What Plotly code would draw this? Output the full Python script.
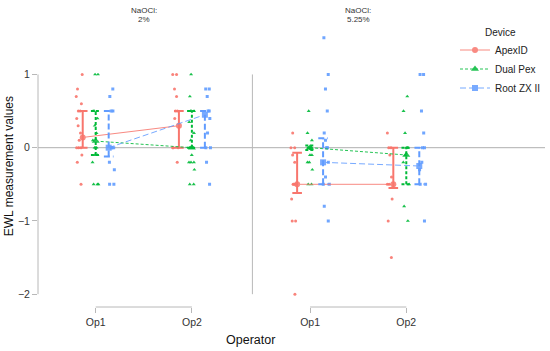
import plotly.graph_objects as go

# ---------------- data ----------------
operators = ["Op1", "Op2"]
devices = ["ApexID", "Dual Pex", "Root ZX II"]
naocl_labels = ["2%", "5.25%"]

# raw measurements (NaOCl 2%)
apex_2_op1 = [1.0, 0.8, 0.7, 0.6, 0.5, 0.5, 0.4, 0.3, 0.2, 0.1, 0, 0, 0, -0.1, -0.2, -0.5]
apex_2_op2 = [1.0, 1.0, 0.8, 0.7, 0.5, 0.5, 0.4, 0, 0, 0, -0.2]
dual_2_op1 = [1.0, 1.0, 0.5, 0.5, 0.4, 0.3, 0.2, 0.1, 0, 0, 0, -0.1, -0.1, -0.2, -0.5, -0.5, -0.5]
dual_2_op2 = [1.0, 0.7, 0.5, 0.5, 0.5, 0.35, 0.2, 0.1, 0, 0, 0, 0, -0.1, -0.2, -0.2, -0.2, -0.3, -0.5, -0.5]
root_2_op1 = [0.8, 0.7, 0.5, 0.5, 0, 0, 0, -0.2, -0.3, -0.5, -0.5]
root_2_op2 = [0.8, 0.8, 0.7, 0.5, 0.5, 0.4, 0.2, 0, 0, -0.2, -0.5]
# raw measurements (NaOCl 5.25%)
apex_5_op1 = [0.2, 0, 0, -0.1, -0.2, -0.5, -0.5, -0.5, -0.7, -1.0, -1.0, -2.0]
apex_5_op2 = [0.2, 0, 0, -0.1, -0.4, -0.5, -0.5, -0.7, -1.0, -1.5]
dual_5_op1 = [0.5, 0.2, 0.1, 0, 0, 0, 0, 0, -0.1, -0.1, -0.2, -0.2, -0.3, -0.5, -0.5]
dual_5_op2 = [0.7, 0.5, 0.2, 0, 0, 0, -0.1, -0.2, -0.5, -0.8, -1.0]
root_5_op1 = [1.5, 1.0, 0.8, 0.5, 0.2, 0.1, 0, 0, -0.2, -0.4, -0.5, -0.5, -0.8, -1.0]
root_5_op2 = [1.0, 1.0, 0.5, 0.2, 0, 0, -0.2, -0.3, -0.5, -0.5, -1.0]

# summary points and error bars per operator [Op1, Op2]
apex_2_mean = [0.14, 0.30]
apex_2_lo = [0.0, 0.0]
apex_2_hi = [0.5, 0.5]
dual_2_mean = [0.09, 0.0]
dual_2_lo = [-0.1, 0.0]
dual_2_hi = [0.5, 0.5]
root_2_mean = [0.0, 0.45]
root_2_lo = [-0.12, 0.0]
root_2_hi = [0.5, 0.5]
apex_5_mean = [-0.5, -0.5]
apex_5_lo = [-0.62, -0.55]
apex_5_hi = [-0.07, 0.0]
dual_5_mean = [0.0, -0.1]
dual_5_lo = [-0.03, -0.5]
dual_5_hi = [0.03, 0.0]
root_5_mean = [-0.2, -0.25]
root_5_lo = [-0.5, -0.5]
root_5_hi = [0.13, 0.0]

raw = {
    (0, 0): [apex_2_op1, apex_2_op2], (0, 1): [dual_2_op1, dual_2_op2], (0, 2): [root_2_op1, root_2_op2],
    (1, 0): [apex_5_op1, apex_5_op2], (1, 1): [dual_5_op1, dual_5_op2], (1, 2): [root_5_op1, root_5_op2],
}
summ = {
    (0, 0): (apex_2_mean, apex_2_lo, apex_2_hi), (0, 1): (dual_2_mean, dual_2_lo, dual_2_hi),
    (0, 2): (root_2_mean, root_2_lo, root_2_hi), (1, 0): (apex_5_mean, apex_5_lo, apex_5_hi),
    (1, 1): (dual_5_mean, dual_5_lo, dual_5_hi), (1, 2): (root_5_mean, root_5_lo, root_5_hi),
}

# ---------------- styles ----------------
FONT = "Liberation Sans, Arial, sans-serif"
colors = ["#F8766D", "#00BA38", "#619CFF"]
symbols = ["circle", "triangle-up", "square"]
dashes = ["solid", "3px,2px", "6px,3px"]
pt_off = [-0.17, 0.0, 0.17]
bar_off = [-0.135, 0.0, 0.135]
cap = 0.05
AX = "#B8B8B8"

fig = go.Figure()

for p in range(2):
    xa = "x" if p == 0 else "x2"
    ya = "y" if p == 0 else "y2"
    for d in range(3):
        # jittered raw points
        for o in range(2):
            vals = raw[(p, d)][o]
            fig.add_trace(go.Box(
                x=[o + 1 + pt_off[d]] * len(vals), y=vals,
                boxpoints="all", jitter=1, pointpos=0, width=0.08,
                marker=dict(symbol=symbols[d], size=3 if d != 1 else 3.5, color=colors[d], opacity=0.9),
                line=dict(color="rgba(0,0,0,0)", width=0), fillcolor="rgba(0,0,0,0)",
                showlegend=False, hoverinfo="skip", xaxis=xa, yaxis=ya))
        mean, lo, hi = summ[(p, d)]
        # error bars
        ex, ey = [], []
        for o in range(2):
            c = o + 1 + bar_off[d]
            ex += [c, c, None, c - cap, c + cap, None, c - cap, c + cap, None]
            ey += [lo[o], hi[o], None, lo[o], lo[o], None, hi[o], hi[o], None]
        fig.add_trace(go.Scatter(x=ex, y=ey, mode="lines",
                                 line=dict(color=colors[d], width=2, dash=dashes[d]),
                                 showlegend=False, hoverinfo="skip", xaxis=xa, yaxis=ya))
        # mean line + markers
        fig.add_trace(go.Scatter(
            x=[o + 1 + bar_off[d] for o in range(2)], y=mean, mode="lines+markers",
            line=dict(color=colors[d], width=1, dash=dashes[d]),
            marker=dict(symbol=symbols[d], size=6 if d != 1 else 7, color=colors[d]),
            opacity=0.85, name=devices[d], legendgroup=devices[d], showlegend=(p == 0),
            xaxis=xa, yaxis=ya))

# ---------------- layout ----------------
L, R, T, B = 38, 86, 24.5, 44
W, H = 550, 351
pw = W - L - R
ph = H - T - B
d1 = (249.6 - L) / pw
d2 = (252.4 - L) / pw

xcommon = dict(range=[0.4, 2.6], tickvals=[1, 2], ticktext=operators, ticks="outside", ticklen=5,
               tickcolor=AX, showgrid=False, zeroline=False, showline=False,
               tickfont=dict(family=FONT, size=10.5, color="#333333"))
fig.update_layout(
    width=W, height=H, margin=dict(l=L, r=R, t=T, b=B, autoexpand=False),
    plot_bgcolor="white", paper_bgcolor="white",
    xaxis=dict(domain=[0, d1], anchor="y", **xcommon),
    xaxis2=dict(domain=[d2, 1], anchor="y2", **xcommon),
    yaxis=dict(range=[-2.175, 1.675], tickvals=[-2, -1, 0, 1], ticks="outside", ticklen=5, tickcolor=AX,
               showgrid=False, zeroline=False, showline=False,
               tickfont=dict(family=FONT, size=10.5, color="#333333")),
    yaxis2=dict(matches="y", anchor="x2", showticklabels=False, ticks="", showgrid=False,
                zeroline=False, showline=False),
    legend=dict(x=(455 - L) / pw, y=(H - B - 22) / ph, xanchor="left", yanchor="top",
                bgcolor="rgba(0,0,0,0)", font=dict(family=FONT, size=10, color="#222"),
                title=dict(text="Device", side="top center", font=dict(family=FONT, size=10, color="#222")),
                itemwidth=30, tracegroupgap=0),
    showlegend=True,
)

shapes = []
# zero reference line
shapes.append(dict(type="line", xref="paper", yref="y", x0=0, x1=(545 - L) / pw, y0=0, y1=0,
                   line=dict(color="#AFAFAF", width=1), layer="below"))
for xa in ["x", "x2"]:
    ya = "y" if xa == "x" else "y2"
    shapes.append(dict(type="line", xref=xa + " domain", yref=ya, x0=0, x1=0, y0=-2, y1=1,
                       line=dict(color=AX, width=1), layer="below"))
    shapes.append(dict(type="line", xref=xa, yref=ya + " domain", x0=1, x1=2, y0=0, y1=0,
                       line=dict(color=AX, width=1), layer="below"))
fig.update_layout(shapes=shapes)

ann = []
for p, lab in enumerate(naocl_labels):
    cx = d1 / 2 if p == 0 else (d2 + 1) / 2
    ann.append(dict(text="NaOCl:", x=cx, y=(H - B - 10) / ph, xref="paper", yref="paper", showarrow=False,
                    xanchor="center", yanchor="middle", font=dict(family=FONT, size=8, color="#333")))
    ann.append(dict(text=lab, x=cx, y=(H - B - 18.5) / ph, xref="paper", yref="paper", showarrow=False,
                    xanchor="center", yanchor="middle", font=dict(family=FONT, size=8, color="#333")))
ann.append(dict(text="Operator", x=(250 - L) / pw, y=(H - B - 340) / ph, xref="paper", yref="paper",
                showarrow=False, xanchor="center", yanchor="middle",
                font=dict(family=FONT, size=12.5, color="#111")))
ann.append(dict(text="EWL measurement values", x=(9 - L) / pw, y=(H - B - 166) / ph, xref="paper",
                yref="paper", showarrow=False, textangle=-90, xanchor="center", yanchor="middle",
                font=dict(family=FONT, size=12, color="#111")))
fig.update_layout(annotations=ann)

fig.write_html("out.html", config={"displayModeBar": False},
               post_script="document.body.style.margin='0px';document.body.style.padding='0px';")
